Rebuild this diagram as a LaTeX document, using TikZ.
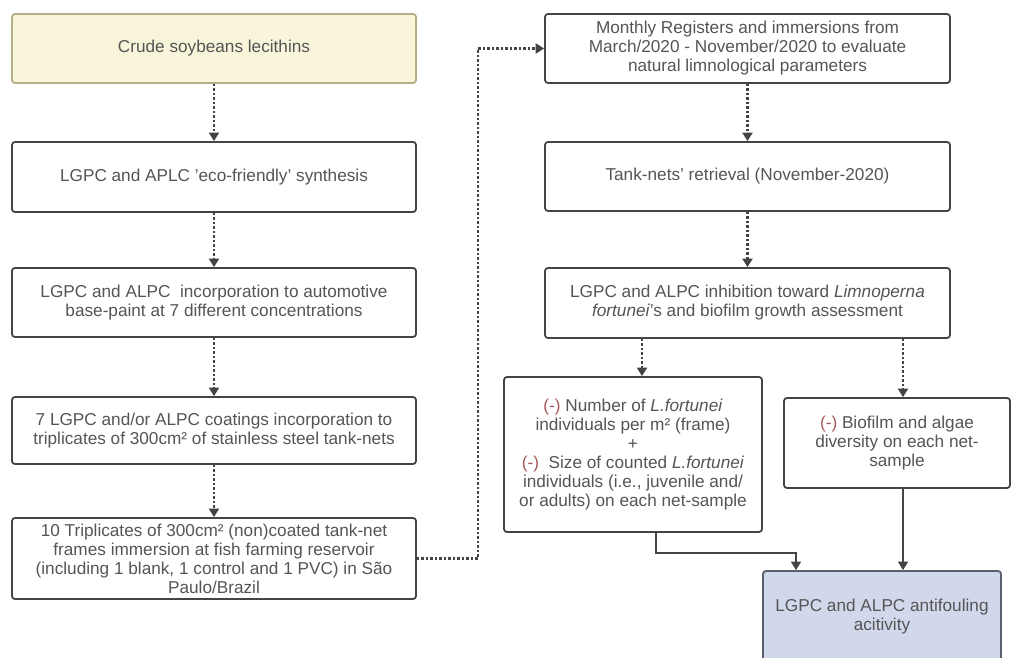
\documentclass[tikz,border=0pt]{standalone}
\usepackage{fontspec}
\setmainfont{Liberation Sans}
\usetikzlibrary{arrows.meta,calc}
\definecolor{txt}{HTML}{555555}
\definecolor{bord}{HTML}{444444}
\definecolor{yfill}{HTML}{F8F5DA}
\definecolor{ybord}{HTML}{B5AE86}
\definecolor{bfill}{HTML}{D2D8EB}
\definecolor{bbord}{HTML}{5A5F70}
\definecolor{negc}{HTML}{A8585A}
\tikzset{
  box/.style={draw=bord, line width=1.8pt, rounded corners=3pt, fill=white,
    text=txt, align=center, inner sep=2pt,
    font=\fontsize{17.2}{19}\selectfont},
  dotarrow/.style={draw=bord, line width=2.1pt, dash pattern=on 2.2pt off 2.3pt,
    -{Triangle[width=10pt,length=8.5pt]}},
  solidarrow/.style={draw=bord, line width=1.7pt, -{Triangle[width=10pt,length=8.5pt]}},
}
\newcommand{\negmark}{\textcolor{negc}{(-)}}
\begin{document}
\begin{tikzpicture}[x=1pt,y=-1pt]
\useasboundingbox (0,0) rectangle (1012,658);
\clip (0,0) rectangle (1012,658);
\fill[white] (0,0) rectangle (1012,658);
% left column
\node[box, fill=yfill, draw=ybord, minimum width=404, minimum height=69] (b1) at (214,48.5) {Crude soybeans lecithins};
\node[box, minimum width=404, minimum height=70] (b2) at (214,177) {LGPC and APLC 'eco-friendly' synthesis};
\node[box, minimum width=404, minimum height=69] (b3) at (214,302.5) {LGPC and ALPC\ \ incorporation to automotive\\base-paint at 7 different concentrations};
\node[box, minimum width=404, minimum height=67] (b4) at (214,430.5) {7 LGPC and/or ALPC coatings incorporation to\\triplicates of 300cm² of stainless steel tank-nets};
\node[box, minimum width=404, minimum height=81] (b5) at (214,558.5) {10 Triplicates of 300cm² (non)coated tank-net\\frames immersion at fish farming reservoir\\(including 1 blank, 1 control and 1 PVC) in São\\Paulo/Brazil};
% right column
\node[box, minimum width=405, minimum height=69] (b6) at (747.5,48.5) {Monthly Registers and immersions from\\March/2020 - November/2020 to evaluate\\natural limnological parameters};
\node[box, minimum width=405, minimum height=69] (b7) at (747.5,176.5) {Tank-nets' retrieval (November-2020)};
\node[box, minimum width=405, minimum height=70] (b8) at (747.5,303) {LGPC and ALPC inhibition toward \textit{Limnoperna}\\\textit{fortunei}'s and biofilm growth assessment};
\node[box, minimum width=258, minimum height=155] (b9) at (633,454.5) {\negmark{} Number of \textit{L.fortunei}\\individuals per m² (frame)\\+\\\negmark\ \ Size of counted \textit{L.fortunei}\\individuals (i.e., juvenile and/\\or adults) on each net-sample};
\node[box, minimum width=226, minimum height=90] (b10) at (897,443) {\negmark{} Biofilm and algae\\diversity on each net-\\sample};
\node[box, fill=bfill, draw=bbord, minimum width=238, minimum height=92] (b11) at (882,617) {LGPC and ALPC antifouling\\acitivity};
% connectors
\draw[dotarrow] (b1.south) -- (b2.north);
\draw[dotarrow] (b2.south) -- (b3.north);
\draw[dotarrow] (b3.south) -- (b4.north);
\draw[dotarrow] (b4.south) -- (b5.north);
\draw[dotarrow] (b5.east) -- ++(61,0) |- (b6.west);
\draw[dotarrow] (b6.south) -- (b7.north);
\draw[dotarrow] (b7.south) -- (b8.north);
\draw[dotarrow] ([xshift=9pt]b9.north |- b8.south) -- ([xshift=9pt]b9.north);
\draw[dotarrow] ([xshift=6pt]b10.north |- b8.south) -- ([xshift=6pt]b10.north);
\draw[solidarrow] ([xshift=23pt]b9.south) -- ++(0,20) -| ([xshift=-86pt]b11.north);
\draw[solidarrow] ([xshift=6pt]b10.south) -- ([xshift=6pt]b10.south |- b11.north);
\end{tikzpicture}
\end{document}
